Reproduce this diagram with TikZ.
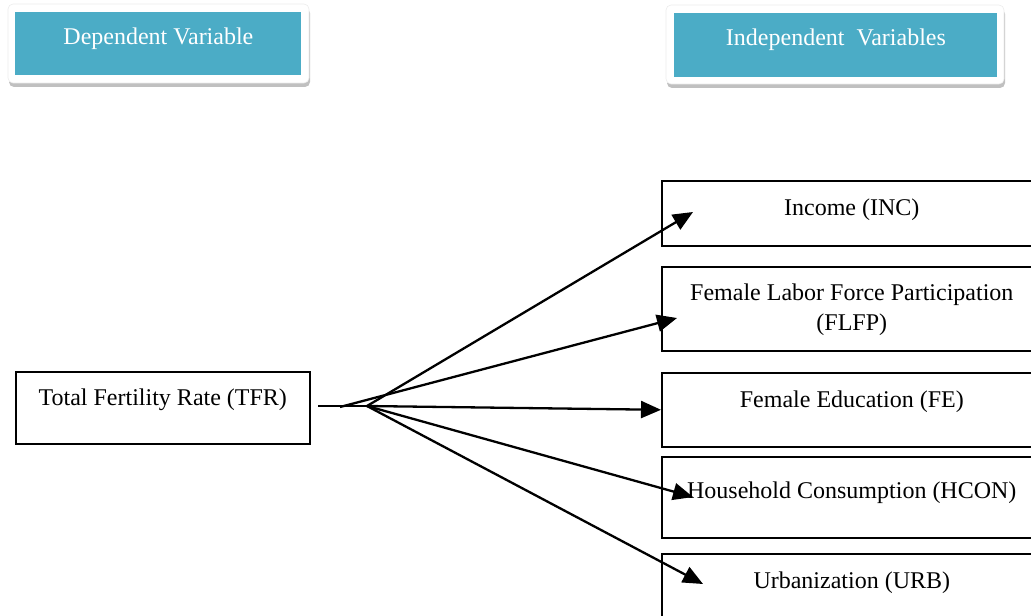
\documentclass[tikz,border=0pt]{standalone}
\usepackage{fontspec}
\setmainfont{Liberation Serif}
\usetikzlibrary{arrows.meta,shadows}
\definecolor{teal}{HTML}{4BACC6}
\tikzset{
  every node/.style={font=\fontsize{12}{15}\selectfont},
  box/.style={draw=black, line width=0.8pt, inner sep=0pt, align=center},
  hdrouter/.style={fill=white, draw=gray!15, line width=0.3pt, rounded corners=2.5pt,
    drop shadow={shadow xshift=0.5pt, shadow yshift=-2pt, opacity=0.45, fill=black!55}},
  hdrinner/.style={fill=teal, inner sep=0pt, text=white},
  conn/.style={line width=1.15pt},
  arr/.style={line width=1.15pt, -{Triangle[length=10pt,width=8.5pt]}}
}
\begin{document}
\begin{tikzpicture}[x=0.5pt,y=-0.5pt]
\clip (0,0) rectangle (1031,615);
\useasboundingbox (0,0) rectangle (1031,615);
% headers
\draw[hdrouter] (8,4) rectangle (309,83);
\node[hdrinner, anchor=north west, minimum width=143pt, text height=16pt, text depth=15.5pt] (dep) at (15,12) {Dependent Variable};
\draw[hdrouter] (666,5) rectangle (1004,84);
\node[hdrinner, anchor=north west, minimum width=161.5pt, text height=16pt, text depth=16pt] (indep) at (674,13) {Independent\ \ Variables};
% dependent box
\node[box, anchor=north west, minimum width=147pt, text height=17pt, text depth=19pt] (tfr) at (15,371) {Total Fertility Rate (TFR)};
% independent boxes
\node[box, anchor=north west, minimum width=190pt, text height=17.5pt, text depth=15pt] (inc) at (661,180) {Income (INC)};
\node[box, anchor=north west, minimum width=190pt, text height=17pt, text depth=25pt] (flfp) at (661,266)
  {\begin{tabular}[t]{@{}c@{}}Female Labor Force Participation\\(FLFP)\end{tabular}};
\node[box, anchor=north west, minimum width=190pt, text height=17.5pt, text depth=19.5pt] (fe) at (661,372) {Female Education (FE)};
\node[box, anchor=north west, minimum width=190pt, text height=21pt, text depth=19.5pt] (hcon) at (661,456) {Household Consumption (HCON)};
\node[box, anchor=north west, minimum width=190pt, text height=17.5pt, text depth=25pt] (urb) at (661,553) {Urbanization (URB)};
% connectors
\coordinate (s0) at (318,406);
\coordinate (s1) at (340,407);
\coordinate (s2) at (367,406);
\coordinate (tinc) at (693,212);
\coordinate (tflfp) at (677,318);
\coordinate (thcon) at (693,497);
\coordinate (turb) at (703,584);
\draw[conn] (s0) -- (s2);
\draw[arr] (s2) -- (tinc);
\draw[arr] (s1) -- (tflfp);
\draw[arr] (s2) -- (fe.west);
\draw[arr] (s2) -- (thcon);
\draw[arr] (s2) -- (turb);
\end{tikzpicture}
\end{document}
